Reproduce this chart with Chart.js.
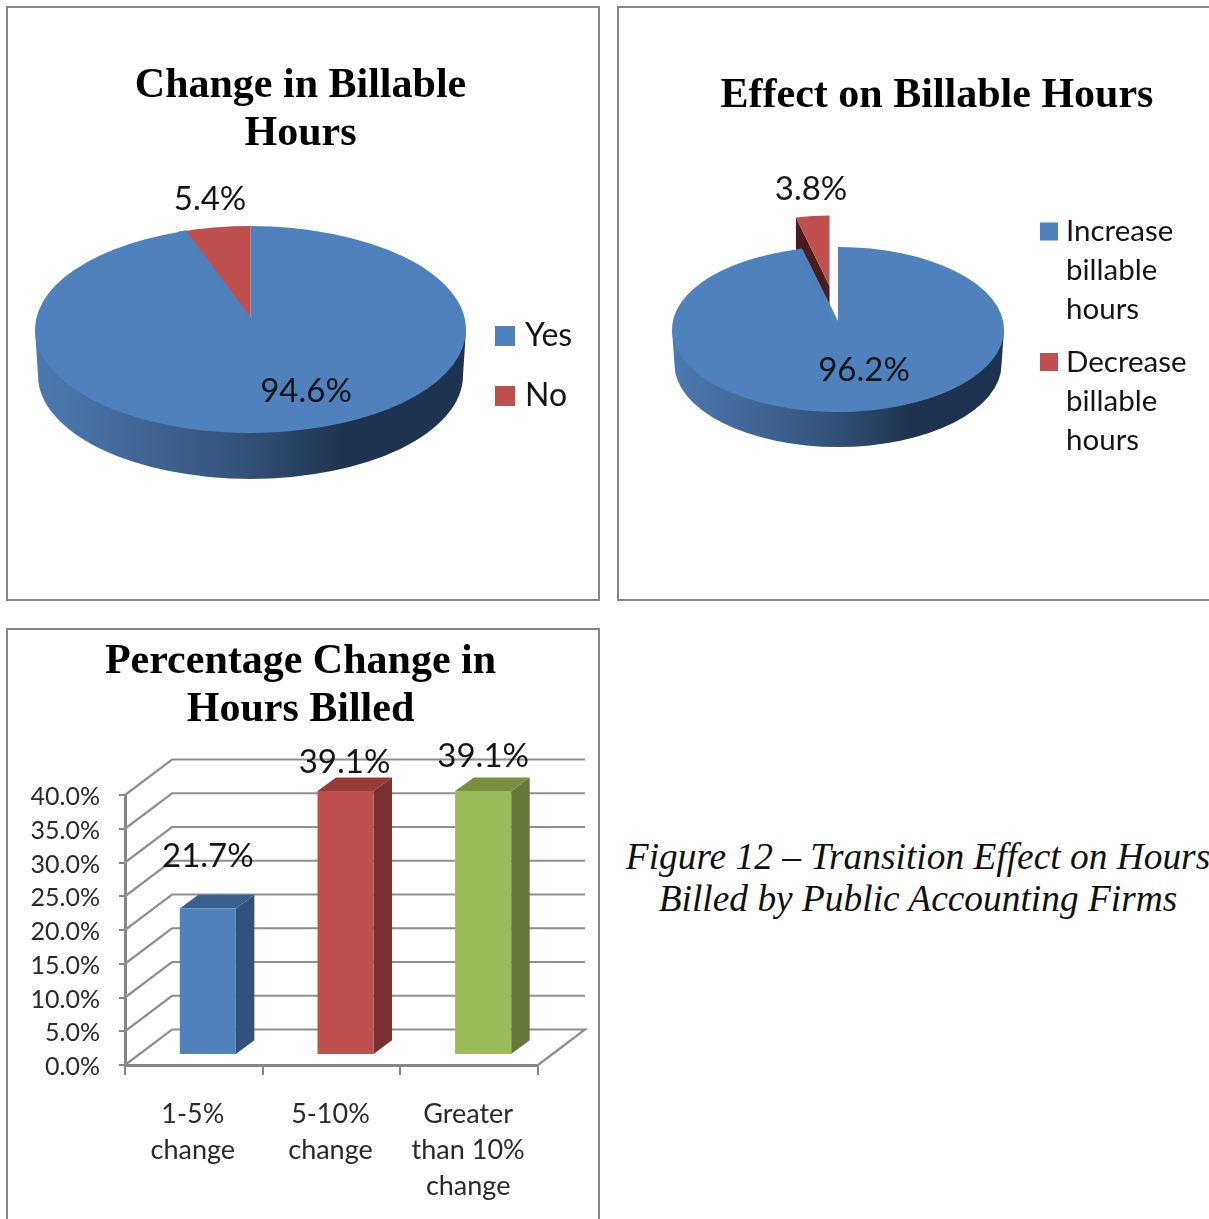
<!DOCTYPE html>
<html>
<head>
<meta charset="utf-8">
<title>Figure 12</title>
<script src="https://cdn.jsdelivr.net/npm/chart.js@4"></script>
<style>
    html, body { margin: 0; padding: 0; background: #fff; }
    body { position: relative; width: 1209px; height: 1219px; overflow: hidden; }
    .panel { position: absolute; box-sizing: border-box; border: 2px solid #868686; }
    canvas { position: absolute; }
    .caption { position: absolute; left: 918px; transform: translateX(-50%); white-space: nowrap;
               font: italic 37.4px "Liberation Serif", serif; color: #111; line-height: 42px; }
</style>
</head>
<body>

<div class="panel" style="left:6px;top:6px;width:594px;height:595px"></div>
<div class="panel" style="left:617px;top:6px;width:700px;height:595px"></div>
<div class="panel" style="left:6px;top:628px;width:594px;height:600px;border-bottom:0"></div>

<canvas id="chartChange" width="589" height="594" style="left:6px;top:6px"></canvas>
<canvas id="chartEffect" width="638" height="594" style="left:618px;top:6px"></canvas>
<canvas id="chartPercent" width="589" height="590" style="left:6px;top:629px"></canvas>

<div class="caption" style="top:836px">Figure 12 – Transition Effect on Hours</div>
<div class="caption" style="top:878px">Billed by Public Accounting Firms</div>

<script>

//------------------------------------------------------------------------------------------
// Data
//------------------------------------------------------------------------------------------

var changeTitle = ["Change in Billable", "Hours"];
var changeLabels = ["Yes", "No"];
var changeValues = [94.6, 5.4];

var effectTitle = "Effect on Billable Hours";
var effectLabels = [["Increase", "billable", "hours"], ["Decrease", "billable", "hours"]];
var effectValues = [96.2, 3.8];

var percentTitle = ["Percentage Change in", "Hours Billed"];
var percentLabels = [["1-5%", "change"], ["5-10%", "change"], ["Greater", "than 10%", "change"]];
var percentValues = [21.7, 39.1, 39.1];
var percentTicks = [0, 5, 10, 15, 20, 25, 30, 35, 40];

var BLUE = "#4f81bd", RED = "#c0504d", GREEN = "#9bbb59";
var AXIS_GREY = "#868686";
var TEXT_FONT = "Lato";

Chart.defaults.font.family = TEXT_FONT;
Chart.defaults.animation = false;

function pct(v) { return v.toFixed(1) + "%"; }

//------------------------------------------------------------------------------------------
// Flattened pie with a side wall, the arcs stay the normal chart.js ones
//------------------------------------------------------------------------------------------

var pie3d = {
    id: "pie3d",

    afterDatasetsUpdate: function(chart, args, o) {
        var arcs = chart.getDatasetMeta(0).data;
        arcs.forEach(function(a) { a.x += o.shiftX; });
        chart.$cy = arcs[0].y;
        if (o.explode) {
            // pulled out slice
            var e = arcs[o.explode.index];
            e.x += o.explode.dx;
            e.y += o.explode.dy / o.squash;
            e.outerRadius = o.explode.radius;
        }
    },

    beforeDatasetsDraw: function(chart, args, o) {
        var ctx = chart.ctx;
        var arcs = chart.getDatasetMeta(0).data;
        var main = arcs[0];
        var cx = main.x, cy = chart.$cy, rx = main.outerRadius, ry = rx * o.squash;

        // side wall
        var grad = ctx.createLinearGradient(cx - rx, 0, cx + rx, 0);
        grad.addColorStop(0, "#4c7ab0");
        grad.addColorStop(0.45, "#35567f");
        grad.addColorStop(0.72, "#1e334f");
        grad.addColorStop(1, "#1e334f");
        ctx.save();
        ctx.fillStyle = grad;
        ctx.beginPath();
        ctx.moveTo(cx - rx, cy);
        ctx.lineTo(cx - rx + o.inset, cy + o.depth);
        ctx.ellipse(cx, cy + o.depth, rx - o.inset, ry, 0, Math.PI, 0, true);
        ctx.lineTo(cx + rx, cy);
        ctx.closePath();
        ctx.fill();

        // cut face of the pulled out slice, the main arc covers its lower part
        if (o.explode) {
            var e = arcs[o.explode.index];
            var ax = e.x, ay = cy + (e.y - cy) * o.squash;
            var lx = ax + e.outerRadius * Math.cos(e.startAngle);
            var ly = ay + e.outerRadius * o.squash * Math.sin(e.startAngle);
            ctx.fillStyle = "#4a1c1d";
            ctx.beginPath();
            ctx.moveTo(ax, ay);
            ctx.lineTo(lx, ly);
            ctx.lineTo(lx, ly + o.depth);
            ctx.lineTo(ax, ay + o.depth);
            ctx.closePath();
            ctx.fill();
        }
        ctx.restore();

        ctx.save();
        ctx.translate(0, cy);
        ctx.scale(1, o.squash);
        ctx.translate(0, -cy);
    },

    afterDatasetsDraw: function(chart, args, o) {
        var ctx = chart.ctx;
        ctx.restore();

        var arcs = chart.getDatasetMeta(0).data;
        var main = arcs[0];
        var cx = main.x, cy = chart.$cy, rx = main.outerRadius, ry = rx * o.squash;

        // the view is in perspective: the slice tip sits above the ellipse centre
        // and the far rim looks a bit compressed, so move the blue edge to there
        var xoff = rx * Math.cos(main.endAngle);
        var yoff = ry * Math.sin(main.endAngle);
        var xoff2 = xoff * o.rimPull;
        var yoff2 = -ry * Math.sqrt(1 - (xoff2 / rx) * (xoff2 / rx));
        ctx.save();
        ctx.fillStyle = main.options.backgroundColor;
        ctx.strokeStyle = main.options.backgroundColor;
        ctx.lineWidth = 1;
        ctx.beginPath();
        ctx.moveTo(cx, cy);
        ctx.lineTo(cx + xoff, cy + yoff);
        ctx.lineTo(cx + xoff2, cy + yoff2);
        ctx.lineTo(cx, cy - o.apexLift);
        ctx.closePath();
        ctx.fill();
        ctx.stroke();
        ctx.restore();

        // value labels
        ctx.save();
        ctx.font = o.labelFont + " " + TEXT_FONT;
        ctx.fillStyle = "#151515";
        ctx.textAlign = "center";
        ctx.textBaseline = "middle";
        chart.data.datasets[0].data.forEach(function(v, i) {
            ctx.fillText(pct(v), o.labelPos[i][0], o.labelPos[i][1]);
        });

        // legend
        var y = o.legend.y;
        ctx.textAlign = "left";
        ctx.font = o.legend.font + " " + TEXT_FONT;
        o.legend.labels.forEach(function(lines, i) {
            ctx.fillStyle = chart.data.datasets[0].backgroundColor[i];
            ctx.fillRect(o.legend.x, y - o.legend.box / 2, o.legend.box, o.legend.box);
            ctx.fillStyle = "#151515";
            [].concat(lines).forEach(function(line, n) {
                ctx.fillText(line, o.legend.textX, y);
                y += (n < [].concat(lines).length - 1) ? o.legend.lineHeight : 0;
            });
            y += o.legend.gap;
        });
        ctx.restore();
    }
};

//------------------------------------------------------------------------------------------
// Walls, floor and box sides for the column chart
//------------------------------------------------------------------------------------------

var bar3d = {
    id: "bar3d",

    // the title stays centred on the whole panel, not on the part left by the padding
    afterLayout: function(chart) {
        chart.titleBlock.right = chart.width;
    },

    beforeDatasetsDraw: function(chart, args, o) {
        var ctx = chart.ctx;
        var xs = chart.scales.x, ys = chart.scales.y;

        ctx.save();
        ctx.strokeStyle = "#8f8f8f";
        ctx.lineWidth = 2.2;
        ys.ticks.forEach(function(t) {
            var py = ys.getPixelForValue(t.value);
            ctx.beginPath();
            ctx.moveTo(xs.left, py);
            ctx.lineTo(xs.left + o.wall.dx, py + o.wall.dy);
            ctx.lineTo(xs.right + o.wall.dx, py + o.wall.dy);
            if (t.value === 0) ctx.lineTo(xs.right, py);
            ctx.stroke();
        });
        ctx.restore();

        // bars stand in the middle of the floor
        ctx.save();
        ctx.translate(o.shift.x, o.shift.y);
        chart.getDatasetMeta(0).data.forEach(function(b, i) {
            var l = b.x - b.width / 2, r = b.x + b.width / 2;
            ctx.fillStyle = o.sideColors[i];
            ctx.beginPath();
            ctx.moveTo(r, b.y);
            ctx.lineTo(r + o.face.dx, b.y + o.face.dy);
            ctx.lineTo(r + o.face.dx, b.base + o.face.dy);
            ctx.lineTo(r, b.base);
            ctx.closePath();
            ctx.fill();
            ctx.fillStyle = o.topColors[i];
            ctx.beginPath();
            ctx.moveTo(l, b.y);
            ctx.lineTo(l + o.face.dx, b.y + o.face.dy);
            ctx.lineTo(r + o.face.dx, b.y + o.face.dy);
            ctx.lineTo(r, b.y);
            ctx.closePath();
            ctx.fill();
        });
    },

    afterDatasetsDraw: function(chart, args, o) {
        var ctx = chart.ctx;
        ctx.font = o.labelFont + " " + TEXT_FONT;
        ctx.fillStyle = "#151515";
        ctx.textAlign = "center";
        ctx.textBaseline = "middle";
        chart.getDatasetMeta(0).data.forEach(function(b, i) {
            ctx.fillText(pct(percentValues[i]), b.x + o.labelOffset[i][0], b.y + o.labelOffset[i][1]);
        });
        ctx.restore();
    }
};

//------------------------------------------------------------------------------------------
// Charts
//------------------------------------------------------------------------------------------

function titleOptions(text, top, bottom) {
    return {
        display: true,
        text: text,
        color: "#000",
        font: { family: "Liberation Serif", size: 42, weight: "bold", lineHeight: "48px" },
        padding: { top: top, bottom: bottom }
    };
}

new Chart(document.getElementById("chartChange"), {
    type: "pie",
    data: {
        labels: changeLabels,
        datasets: [{ data: changeValues, backgroundColor: [BLUE, RED], borderWidth: 0, clip: false }]
    },
    options: {
        responsive: false,
        radius: 215.5,
        layout: { padding: { bottom: 99 } },
        plugins: {
            title: titleOptions(changeTitle, 56, 0),
            legend: { display: false },
            tooltip: { enabled: false },
            pie3d: {
                shiftX: -50, squash: 0.48, depth: 46, inset: 3,
                apexLift: 11.5, rimPull: 0.9,
                labelFont: "33px", labelPos: [[300, 385], [204, 193]],
                legend: { labels: changeLabels, x: 489, textX: 519, y: 330, box: 20,
                          font: "32px", lineHeight: 39, gap: 60 }
            }
        }
    },
    plugins: [pie3d]
});

new Chart(document.getElementById("chartEffect"), {
    type: "pie",
    data: {
        labels: effectLabels.map(function(l) { return l.join(" "); }),
        datasets: [{ data: effectValues, backgroundColor: [BLUE, RED], borderWidth: 0, clip: false }]
    },
    options: {
        responsive: false,
        radius: 166,
        layout: { padding: { bottom: 61 } },
        plugins: {
            title: titleOptions(effectTitle, 66, 0),
            legend: { display: false },
            tooltip: { enabled: false },
            pie3d: {
                shiftX: -99, squash: 0.497, depth: 35, inset: 2.5,
                apexLift: 7.5, rimPull: 0.92,
                explode: { index: 1, dx: -8.5, dy: -43.5, radius: 142 },
                labelFont: "33px", labelPos: [[246, 364], [193, 183]],
                legend: { labels: effectLabels, x: 422, textX: 448, y: 225.5, box: 18,
                          font: "29.5px", lineHeight: 39, gap: 52.5 }
            }
        }
    },
    plugins: [pie3d]
});

new Chart(document.getElementById("chartPercent"), {
    type: "bar",
    data: {
        labels: percentLabels,
        datasets: [{
            data: percentValues,
            backgroundColor: [BLUE, RED, GREEN],
            borderWidth: 0,
            barPercentage: 0.407,
            categoryPercentage: 1,
            clip: false
        }]
    },
    options: {
        responsive: false,
        layout: { padding: { right: 57 } },
        scales: {
            x: {
                afterFit: function(axis) { axis.height = 154; },
                grid: { offset: true, drawOnChartArea: false, color: AXIS_GREY, lineWidth: 2, tickLength: 10 },
                border: { color: AXIS_GREY, width: 3 },
                ticks: {
                    autoSkip: false, maxRotation: 0, padding: 21, labelOffset: -1, color: "#2a2a2a",
                    font: { size: 27, lineHeight: 1.333 }
                }
            },
            y: {
                min: 0,
                max: 40,
                afterFit: function(axis) { axis.width = 119; },
                afterBuildTicks: function(axis) {
                    axis.ticks = percentTicks.map(function(v) { return { value: v }; });
                },
                grid: { drawOnChartArea: false, color: AXIS_GREY, lineWidth: 2, tickLength: 6 },
                border: { color: AXIS_GREY, width: 3 },
                ticks: {
                    padding: 19, color: "#2a2a2a", labelOffset: 2,
                    font: { size: 25 },
                    callback: function(v) { return pct(v); }
                }
            }
        },
        plugins: {
            title: titleOptions(percentTitle, 9, 61),
            legend: { display: false },
            tooltip: { enabled: false },
            bar3d: {
                wall: { dx: 47, dy: -35.5 },
                shift: { x: 14, y: -10 },
                face: { dx: 18.5, dy: -13.7 },
                sideColors: ["#31527a", "#7b3030", "#66773a"],
                topColors: ["#3b618f", "#973b39", "#7a9040"],
                labelFont: "33px",
                labelOffset: [[0, -52], [-1, -29], [0, -35]]
            }
        }
    },
    plugins: [bar3d]
});

</script>
</body>
</html>
